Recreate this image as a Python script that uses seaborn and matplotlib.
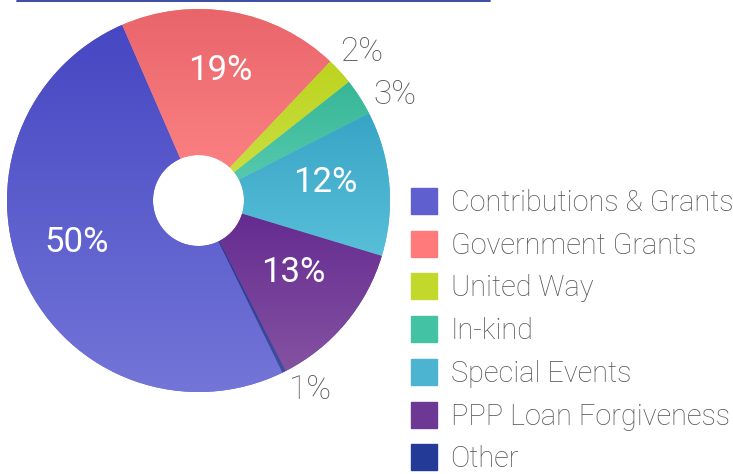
import numpy as np
import matplotlib.pyplot as plt
import seaborn as sns
from matplotlib.colors import LinearSegmentedColormap
from matplotlib.lines import Line2D

# revenue sources (legend order = slice order, clockwise)
sources = ["Contributions & Grants", "Government Grants", "United Way", "In-kind",
           "Special Events", "PPP Loan Forgiveness", "Other"]
shares = [50.7, 18.6, 2.3, 3.1, 12.2, 12.8, 0.3]
pct_labels = ["50%", "19%", "2%", "3%", "12%", "13%", "1%"]

legend_colors = ["#5f5fcf", "#ff7b7b", "#c2d82a", "#44c2a4", "#4cb4d0", "#6c3894", "#233a96"]
top_colors = ["#4647c2", "#e8646a", "#bcd41e", "#36b696", "#38a4c6", "#62288e", "#202c88"]
bottom_colors = ["#7375d8", "#ff8686", "#cde04a", "#5ccdb2", "#58bfd8", "#8452a2", "#434e9e"]

# label placement: (distance from centre, angular nudge in degrees, clockwise)
label_pos = [(0.672, 5.5), (0.69, -0.6), (1.153, 0.0), (1.165, 4.4),
             (0.667, -3.2), (0.62, -2.8), (1.148, -4.0)]

sns.set_style("white")
plt.rcParams["font.family"] = ["Roboto", "DejaVu Sans"]

fig = plt.figure(figsize=(7.33, 4.74), dpi=100)
# pie centred at (198.5, 200.5) px, radius 191.5 px
R = 191.5
ax = fig.add_axes([(198.5 - R) / 733, (474 - 200.5 - R) / 474, 2 * R / 733, 2 * R / 474])

wedges, _ = ax.pie(shares, colors=legend_colors, startangle=-64, counterclock=False,
                   wedgeprops=dict(width=1 - 45.5 / R, linewidth=0))

# vertical gradient inside each slice
grad = np.linspace(0, 1, 256).reshape(-1, 1)
for w, c_top, c_bot in zip(wedges, top_colors, bottom_colors):
    v = w.get_path().vertices
    cmap = LinearSegmentedColormap.from_list("g", [c_bot, c_top])
    im = ax.imshow(grad, cmap=cmap, origin="lower", aspect="auto",
                   extent=[v[:, 0].min(), v[:, 0].max(), v[:, 1].min(), v[:, 1].max()],
                   zorder=2)
    im.set_clip_path(w)

# percentage labels
for w, lab, val, (r, nudge) in zip(wedges, pct_labels, shares, label_pos):
    ang = np.deg2rad((w.theta1 + w.theta2) / 2 - nudge)
    if val > 5:
        col, wt, fs = "white", "normal", 25
    else:
        col, wt, fs = "#555555", "light", 24
    ax.text(r * np.cos(ang), r * np.sin(ang), lab, ha="center", va="center",
            fontsize=fs, color=col, fontweight=wt, zorder=5)

ax.set_xlim(-1, 1)
ax.set_ylim(-1, 1)
ax.axis("off")

handles = [Line2D([], [], marker="s", linestyle="", markersize=19, color=c) for c in legend_colors]
fig.legend(handles, sources, loc="upper left", bbox_to_anchor=(411 / 733, 1 - 189 / 474),
           frameon=False, borderpad=0, borderaxespad=0, handlelength=0.9,
           handletextpad=0.47, labelspacing=0.51, labelcolor="#555555",
           prop={"size": 20.8, "weight": "light"})

# underline at the top edge
fig.add_artist(Line2D([17 / 733, 490 / 733], [1 - 0.7 / 474] * 2, lw=1.3, color="#2a3d9c"))

fig.savefig("out.png", dpi=100)
